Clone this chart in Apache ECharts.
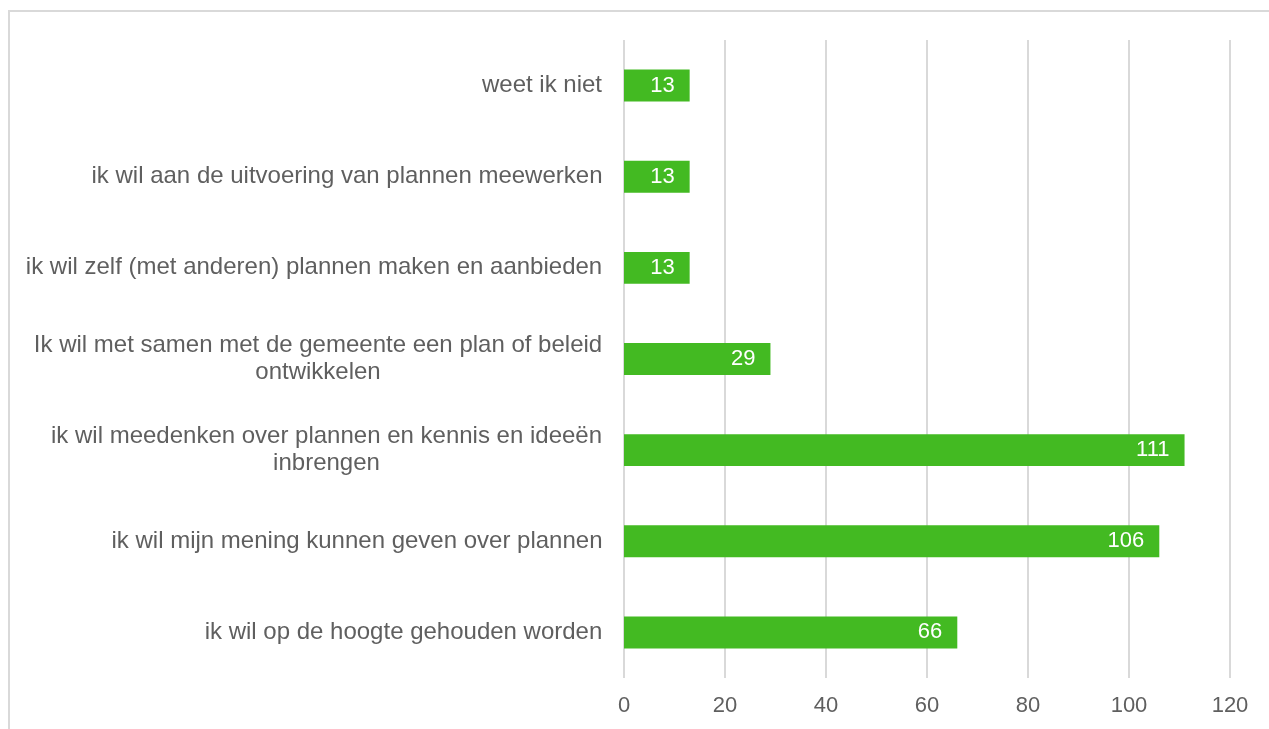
<!DOCTYPE html>
<html>
<head>
<meta charset="utf-8">
<script src="https://cdn.jsdelivr.net/npm/echarts@6/dist/echarts.min.js"></script>
<style>
  html, body { margin: 0; padding: 0; background: #fff; }
  #main { width: 1269px; height: 729px; }
</style>
</head>
<body>
<div id="main"></div>
<script>
var categories = [
    'weet ik niet',
    'ik wil aan de uitvoering van plannen meewerken',
    'ik wil zelf (met anderen) plannen maken en aanbieden',
    'Ik wil met samen met de gemeente een plan of beleid\nontwikkelen',
    'ik wil meedenken over plannen en kennis en ideeën\ninbrengen',
    'ik wil mijn mening kunnen geven over plannen',
    'ik wil op de hoogte gehouden worden'
];
var values = [13, 13, 13, 29, 111, 106, 66];
var tickMax = 120;
var tickStep = 20;

var labelFont = '24px "Liberation Sans", Arial, sans-serif';
var labelColor = '#5f5f5f';

// multi-line labels: lines centred under each other, block right aligned (like Excel)
var ctx = document.createElement('canvas').getContext('2d');
ctx.font = labelFont;
var rich = {};
categories.forEach(function (c, i) {
    var w = 0;
    c.split('\n').forEach(function (l) { w = Math.max(w, ctx.measureText(l).width); });
    rich['c' + i] = { width: Math.ceil(w) + 1, align: 'center', fontSize: 24, lineHeight: 27, color: labelColor };
});

var chart = echarts.init(document.getElementById('main'));
var option = {
    animation: false,
    textStyle: { fontFamily: 'Liberation Sans, Arial, sans-serif' },
    graphic: [{
        type: 'rect',
        shape: { x: 9, y: 11, width: 1300, height: 800 },
        style: { fill: 'none', stroke: '#d9d9d9', lineWidth: 2 },
        silent: true
    }],
    grid: { left: 624, right: 39, top: 40, bottom: 51 },
    xAxis: {
        type: 'value',
        min: 0,
        max: tickMax,
        interval: tickStep,
        axisLine: { show: false },
        axisTick: { show: false },
        axisLabel: { color: labelColor, fontSize: 22, margin: 17 },
        splitLine: { lineStyle: { color: '#d9d9d9', width: 2 } }
    },
    yAxis: {
        type: 'category',
        inverse: true,
        data: categories,
        axisLine: { show: false },
        axisTick: { show: false },
        axisLabel: {
            color: labelColor,
            fontSize: 24,
            margin: 21,
            lineHeight: 27,
            align: 'right',
            rich: rich,
            formatter: function (v, i) {
                return v.split('\n').map(function (l) {
                    return '{c' + i + '|' + l + '}';
                }).join('\n');
            }
        }
    },
    series: [{
        type: 'bar',
        data: values,
        barWidth: '35%',
        itemStyle: { color: '#43ba22' },
        label: {
            show: true,
            position: 'insideRight',
            color: '#fff',
            fontSize: 22,
            distance: 15
        }
    }]
};
chart.setOption(option);
</script>
</body>
</html>
